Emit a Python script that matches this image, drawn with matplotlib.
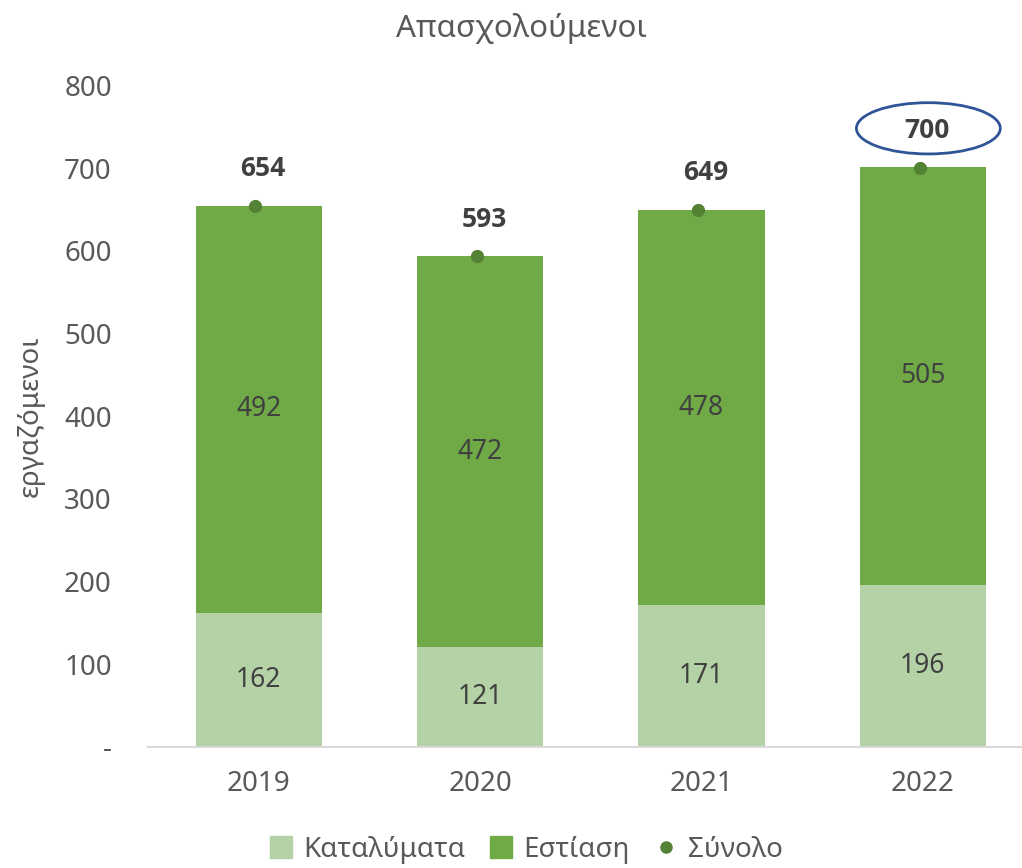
import numpy as np
import matplotlib.pyplot as plt
from matplotlib.patches import Ellipse
from matplotlib.lines import Line2D
from matplotlib.patches import Patch

plt.rcParams['font.family'] = ['Noto Sans', 'DejaVu Sans']

years = ['2019', '2020', '2021', '2022']
katalymata = [162, 121, 171, 196]
estiasi = [492, 472, 478, 505]
synolo = [654, 593, 649, 700]

c_light = '#B5D2A6'
c_dark = '#6FAA46'
c_dot = '#548235'
c_text = '#404040'
c_tick = '#595959'

fig = plt.figure(figsize=(10.22, 8.68), dpi=100)
ax = fig.add_axes([0.1448, 0.1397, 1 - 0.1448, 0.762])

x = np.arange(len(years))
w = 0.57
ax.bar(x, katalymata, w, color=c_light)
ax.bar(x, estiasi, w, bottom=katalymata, color=c_dark)
ax.plot(x - 0.015, synolo, 'o', color=c_dot, markersize=8.5, linestyle='none')

# labels inside the bars
for i in range(len(years)):
    ax.text(x[i], katalymata[i] / 2, str(katalymata[i]), ha='center', va='center',
            fontsize=19, color=c_text)
    ax.text(x[i], katalymata[i] + estiasi[i] / 2, str(estiasi[i]), ha='center', va='center',
            fontsize=19, color=c_text)
    ax.text(x[i] + 0.02, synolo[i] + 45, str(synolo[i]), ha='center', va='center',
            fontsize=19, fontweight='bold', color=c_text,
            family=['Open Sans', 'DejaVu Sans'])

# ellipse round the last total
ax.add_patch(Ellipse((x[-1] + 0.025, synolo[-1] + 48), 0.65, 62, fill=False,
                     edgecolor='#2F5597', linewidth=2))

ax.set_xlim(-0.5, 3.448)
ax.set_ylim(0, 800)
ax.set_yticks(np.arange(0, 801, 100))
ax.set_yticklabels(['-'] + [str(v) for v in range(100, 801, 100)])
ax.set_xticks(x)
ax.set_xticklabels(years)
ax.tick_params(axis='y', length=0, labelsize=20, labelcolor=c_tick, pad=26)
ax.tick_params(axis='x', length=0, labelsize=20, labelcolor=c_tick, pad=17)
for s in ['top', 'right', 'left']:
    ax.spines[s].set_visible(False)
ax.spines['bottom'].set_color('#D9D9D9')
ax.spines['bottom'].set_linewidth(1.5)

ax.set_ylabel('εργαζόμενοι', fontsize=20, color=c_tick, labelpad=14)
fig.text(0.51, 0.967, 'Απασχολούμενοι', ha='center', va='center', fontsize=22.5, color=c_tick)

handles = [Patch(color=c_light), Patch(color=c_dark),
           Line2D([], [], marker='o', color=c_dot, linestyle='none', markersize=8)]
fig.legend(handles, ['Καταλύματα', 'Εστίαση', 'Σύνολο'], loc='center',
           bbox_to_anchor=(0.515, 0.021), ncol=3, frameon=False, fontsize=20,
           labelcolor=c_tick, handlelength=0.8, handleheight=0.8, handletextpad=0.4,
           columnspacing=0.9)

fig.savefig('out.png', dpi=100)
